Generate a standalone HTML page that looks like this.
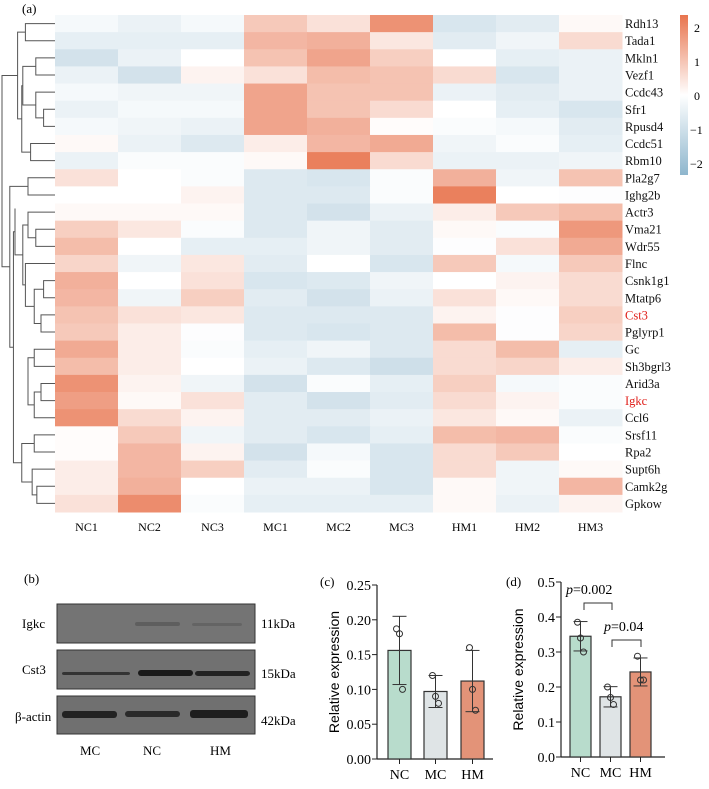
<!DOCTYPE html>
<html><head><meta charset="utf-8"><style>
body{margin:0;background:#fff}
svg, svg text{font-family:"Liberation Serif","DejaVu Serif",serif}
svg text.sans{font-family:"Liberation Sans","DejaVu Sans",sans-serif}
</style></head><body>
<svg id="fig" width="709" height="784" xmlns="http://www.w3.org/2000/svg" font-family="Liberation Serif, DejaVu Serif, serif">
<defs>
<linearGradient id="cb" x1="0" y1="0" x2="0" y2="1">
<stop offset="0" stop-color="#e8744e"/><stop offset="0.5" stop-color="#ffffff"/><stop offset="1" stop-color="#8eb6cd"/>
</linearGradient>
</defs>
<text x="22" y="13" font-size="13">(a)</text>
<g id="heat"></g>
<g id="dendro" stroke="#555" stroke-width="1" fill="none"></g>
<rect x="680" y="15" width="8" height="160" fill="url(#cb)"/>
<g font-size="12">
<text x="694" y="32">2</text><text x="694" y="66">1</text><text x="694" y="100">0</text><text x="690" y="134">−1</text><text x="690" y="168">−2</text>
</g>

<text x="24" y="583" font-size="13">(b)</text>
<g>
<rect x="57" y="604" width="198" height="39" fill="#747474" stroke="#333"/>
<rect x="57" y="650" width="198" height="39" fill="#717171" stroke="#333"/>
<rect x="57" y="696" width="198" height="38" fill="#707070" stroke="#333"/>
<rect x="135" y="622" width="45" height="4" fill="#555" opacity="0.7" rx="2"/>
<rect x="192" y="623" width="50" height="3" fill="#5a5a5a" opacity="0.6" rx="2"/>
<rect x="62" y="672" width="68" height="3" fill="#333" rx="2"/>
<rect x="138" y="670" width="55" height="6" fill="#1a1a1a" rx="3"/>
<rect x="195" y="671" width="55" height="5" fill="#222" rx="3"/>
<rect x="62" y="711" width="55" height="7" fill="#222" rx="3"/>
<rect x="125" y="711" width="55" height="6" fill="#2a2a2a" rx="3"/>
<rect x="190" y="710" width="58" height="8" fill="#1e1e1e" rx="3"/>
</g>
<g font-size="13">
<text x="22" y="628">Igkc</text><text x="22" y="674">Cst3</text><text x="15" y="721">β-actin</text>
<text x="261" y="628">11kDa</text><text x="261" y="678">15kDa</text><text x="261" y="725">42kDa</text>
<text x="80" y="755">MC</text><text x="143" y="755">NC</text><text x="210" y="755">HM</text>
</g>

<text x="320" y="586" font-size="13">(c)</text>
<g id="chartc"></g>
<text x="506" y="586" font-size="13">(d)</text>
<g id="chartd"></g>
</svg>
<script>
const genes=["Rdh13","Tada1","Mkln1","Vezf1","Ccdc43","Sfr1","Rpusd4","Ccdc51","Rbm10","Pla2g7","Ighg2b","Actr3","Vma21","Wdr55","Flnc","Csnk1g1","Mtatp6","Cst3","Pglyrp1","Gc","Sh3bgrl3","Arid3a","Igkc","Ccl6","Srsf11","Rpa2","Supt6h","Camk2g","Gpkow"];
const samples=["NC1","NC2","NC3","MC1","MC2","MC3","HM1","HM2","HM3"];
const heatValues=[
[-0.2,-0.4,-0.2,0.9,0.5,1.8,-0.8,-0.6,0.1],
[-0.5,-0.5,-0.5,1.2,1.3,0.4,-0.6,-0.3,0.6],
[-0.9,-0.4,0,1.0,1.5,0.8,0,-0.5,-0.4],
[-0.4,-0.9,0.2,0.5,1.1,1.0,0.6,-0.8,-0.4],
[-0.2,-0.3,-0.3,1.5,1.0,1.0,-0.4,-0.6,-0.4],
[-0.4,-0.2,-0.2,1.5,1.0,0.6,0,-0.5,-0.8],
[-0.2,-0.3,-0.4,1.5,1.3,0.05,-0.1,-0.2,-0.6],
[0.1,-0.4,-0.7,0.3,1.2,1.4,-0.3,-0.1,-0.5],
[-0.4,-0.1,-0.1,0.1,2.1,0.6,-0.4,-0.4,-0.3],
[0.5,0,-0.1,-0.7,-0.8,-0.1,1.3,-0.3,1.0],
[0,0,0.2,-0.7,-0.7,-0.1,2.1,0,-0.05],
[0.1,0.1,0.1,-0.7,-0.9,-0.4,0.3,0.9,1.1],
[0.8,0.4,-0.1,-0.7,-0.3,-0.6,0.1,-0.1,1.7],
[1.1,0,-0.5,-0.5,-0.3,-0.6,-0.05,0.5,1.4],
[0.7,-0.3,0.4,-0.6,0,-0.8,0.9,-0.2,0.9],
[1.3,0,0.5,-0.8,-0.7,-0.3,0,0.2,0.6],
[1.2,-0.3,0.8,-0.6,-0.9,-0.4,0.5,0.1,0.6],
[1.0,0.5,0.4,-0.7,-0.7,-0.7,0.2,-0.05,0.8],
[0.9,0.3,-0.05,-0.7,-0.8,-0.7,1.1,-0.05,0.7],
[1.4,0.3,-0.1,-0.5,-0.3,-0.7,0.6,1.1,-0.5],
[1.1,0.3,0,-0.4,-0.7,-1.0,0.6,0.7,0.3],
[1.8,0.2,-0.3,-0.9,-0.1,-0.5,0.8,-0.2,-0.1],
[1.6,0.1,0.5,-0.6,-0.9,-0.6,0.6,0.2,-0.1],
[1.8,0.6,0.2,-0.6,-0.6,-0.4,0.4,0.1,-0.4],
[0.05,0.9,-0.3,-0.6,-0.8,-0.5,1.1,1.2,-0.1],
[0.05,1.2,0.2,-0.9,-0.2,-0.8,0.6,0.9,0],
[0.3,1.2,0.8,-0.6,-0.1,-0.8,0.6,-0.3,0.1],
[0.3,1.3,0,-0.4,-0.4,-0.8,0.1,-0.3,1.2],
[0.5,1.9,-0.1,-0.5,-0.5,-0.5,0.1,-0.4,0.2]];
const redGenes=["Cst3","Igkc"];
const dendroTree=[[[0,1,0.55],[[[2,3,0.35],[4,[5,6,0.2],0.35],0.6],[7,8,0.45],0.62],0.7],
 [[9,10,0.5],[[[[11,[12,13,0.35],0.5],[14,[[15,16,0.2],[17,18,0.25],0.38],0.55],0.6],[[[19,20,0.38],[[21,22,0.25],23,0.38],0.5],0.7],0.75],[[24,25,0.38],[26,[27,28,0.33],0.42],0.62],0.78],0.85],1.0];
const groups=["NC","MC","HM"];
const cMeans=[0.156,0.097,0.112];
const cSD=[0.049,0.023,0.044];
const cPoints=[[0.187,0.18,0.10],[0.12,0.09,0.08],[0.16,0.10,0.07]];
const cTicks=[0,0.05,0.10,0.15,0.20,0.25];
const dMeans=[0.345,0.172,0.243];
const dSD=[0.042,0.029,0.040];
const dPoints=[[0.385,0.34,0.30],[0.20,0.17,0.15],[0.288,0.22,0.22]];
const dTicks=[0,0.1,0.2,0.3,0.4,0.5];
const fills=["#b8dccc","#dfe4e6","#e39378"];

const NS="http://www.w3.org/2000/svg";
function mk(tag,attrs,parent){const e=document.createElementNS(NS,tag);for(const k in attrs)e.setAttribute(k,attrs[k]);parent.appendChild(e);return e;}
function color(v){const t=Math.min(1,Math.abs(v)/2.3);const c=v>=0?[232,116,78]:[142,182,205];
 return `rgb(${Math.round(255+(c[0]-255)*t)},${Math.round(255+(c[1]-255)*t)},${Math.round(255+(c[2]-255)*t)})`;}
const HX=55,HY=15,CW=63,RH=497/genes.length;
const heat=document.getElementById('heat');
heatValues.forEach((row,i)=>row.forEach((v,j)=>{
 const r=mk('rect',{x:HX+j*CW,y:HY+i*RH,width:CW+0.5,height:RH+0.5,fill:color(v)},heat);
 
 
}));
genes.forEach((g,i)=>{const t=mk('text',{x:625,y:HY+i*RH+RH/2+4.5,'font-size':12.5,fill:redGenes.includes(g)?'#e0201b':'#111'},heat);t.textContent=g;
 
 });
samples.forEach((s,j)=>{const t=mk('text',{x:HX+j*CW+CW/2,y:531,'font-size':12,'text-anchor':'middle'},heat);t.textContent=s;
 
 });
const dg=document.getElementById('dendro');
function hx(h){return HX-1-h*52;}
function draw(n){ if(typeof n==='number') return {y:HY+n*RH+RH/2,x:HX};
 const a=draw(n[0]),b=draw(n[1]),x=hx(n[2]);
 const p=mk('path',{d:`M${a.x},${a.y}H${x}V${b.y}H${b.x}`},dg);
 
 
 return {x:x,y:(a.y+b.y)/2};}
draw(dendroTree);

function bar(gid,means,sds,pts,ticks,ax,y0,ytop,barX,bw,xEnd,dec){
 const g=document.getElementById(gid),max=ticks[ticks.length-1];
 const Y=v=>y0-(v/max)*(y0-ytop);
 mk('line',{x1:ax,y1:ytop,x2:ax,y2:y0,stroke:'#222','stroke-width':1.2},g);
 mk('line',{x1:ax,y1:y0,x2:xEnd,y2:y0,stroke:'#222','stroke-width':1.2},g);
 ticks.forEach(t=>{mk('line',{x1:ax-5,y1:Y(t),x2:ax,y2:Y(t),stroke:'#222'},g);
  const tx=mk('text',{x:ax-6,y:Y(t)+5,'font-size':14,'text-anchor':'end'},g);tx.textContent=t.toFixed(dec);
  
  });
 const yl=mk('text',{class:'sans','font-family':'Liberation Sans, DejaVu Sans, sans-serif',x:0,y:0,'font-size':14,'text-anchor':'middle',transform:`translate(${ax-38},${(y0+ytop)/2}) rotate(-90)`},g);yl.textContent='Relative expression';
 
 
 means.forEach((m,i)=>{const x=barX[i],cx=x+bw/2;
  const r=mk('rect',{x:x,y:Y(m),width:bw,height:y0-Y(m),fill:fills[i],stroke:'#333','stroke-width':1.2},g);
  
  
  mk('line',{x1:cx,y1:Y(m+sds[i]),x2:cx,y2:Y(m-sds[i]),stroke:'#333'},g);
  mk('line',{x1:cx-7,y1:Y(m+sds[i]),x2:cx+7,y2:Y(m+sds[i]),stroke:'#333'},g);
  mk('line',{x1:cx-7,y1:Y(m-sds[i]),x2:cx+7,y2:Y(m-sds[i]),stroke:'#333'},g);
  mk('line',{x1:cx,y1:y0,x2:cx,y2:y0+5,stroke:'#222'},g);
  pts[i].forEach((p,k)=>{const c=mk('circle',{cx:cx+(k-1)*3,cy:Y(p),r:3,fill:'none',stroke:'#333'},g);
   
   });
  const t=mk('text',{x:cx,y:y0+20,'font-size':14,'text-anchor':'middle'},g);t.textContent=groups[i];
  
  
 });
 return {g,Y};
}
bar('chartc',cMeans,cSD,cPoints,cTicks,377,759,585,[388,424,461],23,493,2);
const d=bar('chartd',dMeans,dSD,dPoints,dTicks,561,757,582,[570,600,630],21,665,1);
function sig(x1,x2,y,label,lx){mk('path',{d:`M${x1},${y+7}V${y}H${x2}V${y+7}`,fill:'none',stroke:'#333'},d.g);
 const t=mk('text',{x:lx,y:y-9,'font-size':14},d.g);t.innerHTML='<tspan font-style="italic">p</tspan>=' + label;
 
 }
sig(584,612,603,'0.002',566);
sig(612,641,640,'0.04',604);
</script>
</body></html>
